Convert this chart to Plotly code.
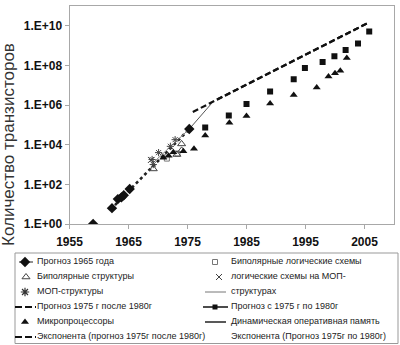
import plotly.graph_objects as go

# ---------------- data ----------------
forecast1965_years = [1959.0, 1962.2, 1963.2, 1963.8, 1964.2, 1965.2, 1975.3]
forecast1965_counts = [1, 6.3, 18, 22, 28, 58, 62000]

trend1965_years = [1962.0, 1975.3]
trend1965_counts = [5.5, 62000]

bipolar_logic_years = [1971.5, 1973.3]
bipolar_logic_counts = [2000, 3600]

bipolar_struct_years = [1969.2, 1973.2, 1974.0, 1974.0]
bipolar_struct_counts = [600, 3200, 5200, 11000]

mos_logic_years = [1968.8, 1971.0]
mos_logic_counts = [1700, 2800]

mos_struct_years = [1969.0, 1969.2, 1970.1, 1972.1, 1972.9]
mos_struct_counts = [1800, 1000, 4000, 8300, 18000]

mos_line_years = [1969.0, 1975.3]
mos_line_counts = [1100, 62000]

forecast_75_80_years = [1975.3, 1979.1]
forecast_75_80_counts = [62000, 1.23e6]

forecast_after80_years = [1980.0, 2005.6]
forecast_after80_counts = [1.9e6, 1.4e10]

exp_after80_years = [1975.9, 2005.6]
exp_after80_counts = [4.5e5, 1.4e10]

micro_years = [1970.9, 1971.8, 1972.6, 1974.3, 1976.1, 1978.0, 1982.1, 1985.0,
               1989.0, 1993.0, 1996.9, 1998.9, 2000.0, 2000.9, 2002.0]
micro_counts = [2200, 2750, 4200, 4700, 6200, 29500, 1.29e5, 2.8e5,
                1.2e6, 3.2e6, 7.8e6, 2.8e7, 4.1e7, 5.4e7, 2.4e8]

dram_years = [1978.0, 1982.0, 1985.0, 1989.0, 1993.0, 1994.9, 1997.9, 1999.9,
              2001.8, 2003.9, 2005.8]
dram_counts = [7.5e4, 3.0e5, 1.15e6, 4.9e6, 2.0e7, 7.4e7, 1.5e8, 2.9e8,
               6.0e8, 1.3e9, 5.1e9]

x_tick_years = [1955, 1965, 1975, 1985, 1995, 2005]
y_tick_values = [1, 1e2, 1e4, 1e6, 1e8, 1e10]
y_tick_labels = ["1.E+00", "1.E+02", "1.E+04", "1.E+06", "1.E+08", "1.E+10"]

y_title = "Количество транзисторов"

legend_left = [
    "Прогноз 1965 года",
    "Биполярные структуры",
    "МОП-структуры",
    "Прогноз 1975 г после 1980г",
    "Микропроцессоры",
    "Экспонента (прогноз 1975г после 1980г)",
]
legend_right = [
    "Биполярные логические схемы",
    "логические схемы на МОП-",
    "структурах",
    "Прогноз с 1975 г по 1980г",
    "Динамическая оперативная память",
    "Экспонента (Прогноз 1975г по 1980г)",
]

# ---------------- layout constants ----------------
W, H = 400, 345
PL, PR, PT, PB = 69.5, 394, 6, 224  # plot area in pixels
FONT = "Liberation Sans, Arial, sans-serif"

fig = go.Figure()

def add(x, y, **kw):
    fig.add_trace(go.Scatter(x=x, y=y, showlegend=False, hoverinfo="skip",
                             xaxis="x", yaxis="y", **kw))

# lines
add(trend1965_years, trend1965_counts, mode="lines",
    line=dict(color="#222", width=2.6, dash="dot"))
add(mos_line_years, mos_line_counts, mode="lines",
    line=dict(color="#888", width=1))
add(forecast_75_80_years, forecast_75_80_counts, mode="lines",
    line=dict(color="#555", width=1))
add(exp_after80_years, exp_after80_counts, mode="lines",
    line=dict(color="#111", width=2.2, dash="6px,3px"))
add(forecast_after80_years, forecast_after80_counts, mode="lines",
    line=dict(color="#111", width=2.2, dash="6px,3px"))

# markers
add(bipolar_logic_years, bipolar_logic_counts, mode="markers",
    marker=dict(symbol="square-open", size=5, color="#777", line=dict(width=1)))
add(bipolar_struct_years, bipolar_struct_counts, mode="markers",
    marker=dict(symbol="triangle-up-open", size=7, color="#444", line=dict(width=1)))
add(mos_logic_years, mos_logic_counts, mode="markers",
    marker=dict(symbol="x-thin-open", size=6, color="#444", line=dict(width=1)))
add(mos_struct_years, mos_struct_counts, mode="markers",
    marker=dict(symbol="asterisk-open", size=6, color="#444", line=dict(width=1)))
add(micro_years, micro_counts, mode="markers",
    marker=dict(symbol="triangle-up", size=7, color="#111"))
add(dram_years, dram_counts, mode="markers",
    marker=dict(symbol="square", size=6, color="#111"))
add(forecast1965_years, forecast1965_counts, mode="markers",
    marker=dict(symbol="diamond", size=8, color="#111"))

# ---------------- custom legend (pixel overlay axes) ----------------
ROW0, ROWSTEP = 262, 15
TXT_X = [37, 231]

def leg(x, y, **kw):
    fig.add_trace(go.Scatter(x=x, y=y, showlegend=False, hoverinfo="skip",
                             xaxis="x2", yaxis="y2", cliponaxis=False, **kw))

def ry(i):
    return ROW0 + ROWSTEP * i

# left column symbols
leg([19, 33], [ry(0), ry(0)], mode="lines", line=dict(color="#222", width=1))
leg([25], [ry(0)], mode="markers", marker=dict(symbol="diamond", size=8, color="#111"))
leg([26], [ry(1)], mode="markers",
    marker=dict(symbol="triangle-up-open", size=7, color="#444", line=dict(width=1)))
leg([25], [ry(2)], mode="markers",
    marker=dict(symbol="asterisk-open", size=7, color="#333", line=dict(width=1.2)))
leg([15, 36], [ry(3), ry(3)], mode="lines",
    line=dict(color="#111", width=2, dash="7px,3px"))
leg([25], [ry(4)], mode="markers", marker=dict(symbol="triangle-up", size=7, color="#111"))
leg([15, 36], [ry(5), ry(5)], mode="lines",
    line=dict(color="#111", width=2, dash="7px,3px"))
# right column symbols
leg([215], [ry(0)], mode="markers",
    marker=dict(symbol="square-open", size=5, color="#777", line=dict(width=1)))
leg([219], [ry(1)], mode="markers",
    marker=dict(symbol="x-thin-open", size=6, color="#444", line=dict(width=1)))
leg([205, 226], [ry(2), ry(2)], mode="lines", line=dict(color="#777", width=1))
leg([203, 228], [ry(3), ry(3)], mode="lines", line=dict(color="#111", width=1.5))
leg([215], [ry(3)], mode="markers", marker=dict(symbol="square", size=5, color="#111"))
leg([205, 226], [ry(4), ry(4)], mode="lines", line=dict(color="#222", width=1.5))

# legend texts
tx, ty, tt = [], [], []
for col, labels in enumerate([legend_left, legend_right]):
    for i, lab in enumerate(labels):
        tx.append(TXT_X[col])
        ty.append(ry(i))
        tt.append(lab)
leg(tx, ty, mode="text", text=tt, textposition="middle right",
    textfont=dict(family=FONT, size=9, color="#222"))

axis_common = dict(showgrid=False, zeroline=False, showline=True, mirror=True,
                   linecolor="#a8a8a8", linewidth=1, ticks="outside", ticklen=4,
                   tickcolor="#a8a8a8",
                   tickfont=dict(family=FONT, size=12, color="#111", weight="bold"))

fig.update_layout(
    width=W, height=H,
    margin=dict(l=0, r=0, t=0, b=0, autoexpand=False),
    paper_bgcolor="white", plot_bgcolor="rgba(0,0,0,0)",
    showlegend=False,
    xaxis=dict(domain=[PL / W, PR / W], range=[1955, 2010], anchor="y",
               tickvals=x_tick_years, ticktext=[str(v) for v in x_tick_years],
               ticklabelstandoff=3, **axis_common),
    yaxis=dict(domain=[1 - PB / H, 1 - PT / H], type="log", range=[0, 11], anchor="x",
               tickvals=y_tick_values, ticktext=y_tick_labels, **axis_common),
    xaxis2=dict(domain=[0, 1], range=[0, W], visible=False, anchor="y2", fixedrange=True),
    yaxis2=dict(domain=[0, 1], range=[H, 0], visible=False, anchor="x2", fixedrange=True),
    shapes=[dict(type="rect", xref="paper", yref="paper",
                 x0=15 / W, x1=398 / W, y0=1 - 343.5 / H, y1=1 - 253 / H,
                 line=dict(color="#999", width=1), fillcolor="rgba(0,0,0,0)",
                 layer="below")],
    annotations=[dict(text=y_title, textangle=-90, xref="paper", yref="paper",
                      x=8 / W, y=1 - 145 / H, xanchor="center", yanchor="middle",
                      showarrow=False,
                      font=dict(family=FONT, size=17, color="#333"))],
)

fig.write_html("out.html")
